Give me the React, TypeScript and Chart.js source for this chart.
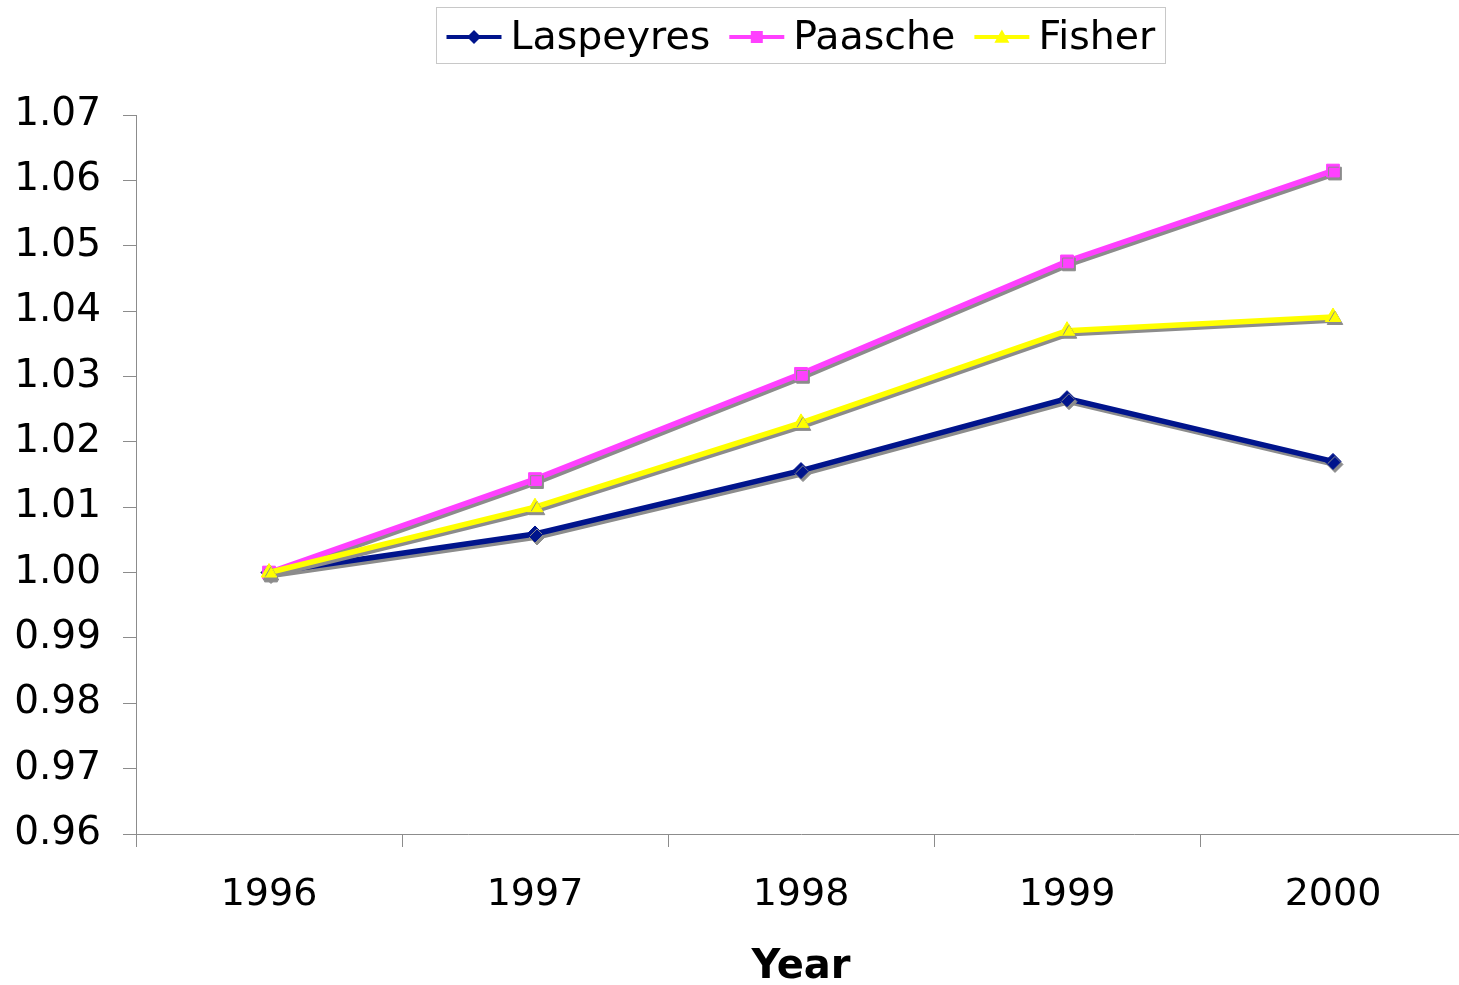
import { useEffect, useRef } from 'react';
import { Chart, registerables } from 'chart.js';

Chart.register(...registerables);

const years = ['1996', '1997', '1998', '1999', '2000'];
const laspeyres = [1.0, 1.0059, 1.0156, 1.0266, 1.017];
const paasche = [1.0, 1.0143, 1.0304, 1.0476, 1.0615];
const fisher = [1.0, 1.01, 1.0229, 1.037, 1.0391];
const seriesNames = ['Laspeyres', 'Paasche', 'Fisher'];
const seriesColors = ['#00148C', '#FF40FF', '#FFFF00'];
const seriesMarkers = ['rectRot', 'rect', 'triangle'];
const yMin = 0.96;
const yMax = 1.07;
const yStep = 0.01;
const xTitle = 'Year';

const FONT = 'DejaVu Sans';
const AXIS_GRAY = '#8c8c8c';

function drawMarker(ctx: CanvasRenderingContext2D, kind: string, x: number, y: number, color: string) {
  ctx.fillStyle = color;
  ctx.beginPath();
  if (kind === 'rectRot') {
    const r = 7;
    ctx.moveTo(x, y - r);
    ctx.lineTo(x + r, y);
    ctx.lineTo(x, y + r);
    ctx.lineTo(x - r, y);
  } else if (kind === 'rect') {
    const s = 6;
    ctx.rect(x - s, y - s, 2 * s, 2 * s);
  } else {
    const r = 7.5;
    ctx.moveTo(x, y - r);
    ctx.lineTo(x + r, y + r * 0.75);
    ctx.lineTo(x - r, y + r * 0.75);
  }
  ctx.closePath();
  ctx.fill();
}

const shadowPlugin = {
  id: 'excelShadow',
  beforeDatasetDraw(chart: any) {
    const ctx = chart.ctx;
    ctx.save();
    ctx.shadowColor = 'rgb(140,140,140)';
    ctx.shadowOffsetX = 2;
    ctx.shadowOffsetY = 3;
    ctx.shadowBlur = 0;
  },
  afterDatasetDraw(chart: any) {
    chart.ctx.restore();
  },
};

const legendPlugin = {
  id: 'excelLegend',
  afterDraw(chart: any) {
    const ctx: CanvasRenderingContext2D = chart.ctx;
    ctx.save();
    ctx.font = `39.5px "${FONT}"`;
    const sampleW = 55;
    const gapText = 9;
    const gapItem = 19;
    const padX = 10;
    const widths = seriesNames.map((n) => ctx.measureText(n).width);
    const itemsW = widths.reduce((a, w) => a + sampleW + gapText + w, 0) + gapItem * (seriesNames.length - 1);
    const boxW = itemsW + padX * 2;
    const center = 800;
    const boxX = Math.round(center - boxW / 2) + 0.5;
    const boxY = 7.5;
    const boxH = 56;
    ctx.strokeStyle = '#c8c8c8';
    ctx.lineWidth = 1;
    ctx.strokeRect(boxX, boxY, Math.round(boxW), boxH);
    const cy = 37;
    let x = boxX + padX;
    seriesNames.forEach((name, i) => {
      ctx.strokeStyle = seriesColors[i];
      ctx.lineWidth = 4;
      ctx.beginPath();
      ctx.moveTo(x, cy);
      ctx.lineTo(x + sampleW, cy);
      ctx.stroke();
      drawMarker(ctx, seriesMarkers[i], x + sampleW / 2, cy, seriesColors[i]);
      ctx.fillStyle = '#000';
      ctx.textBaseline = 'middle';
      ctx.textAlign = 'left';
      ctx.fillText(name, x + sampleW + gapText, cy + 2);
      x += sampleW + gapText + widths[i] + gapItem;
    });
    ctx.restore();
  },
};

export default function App() {
  const ref = useRef<HTMLCanvasElement>(null);

  useEffect(() => {
    if (!ref.current) return;
    Chart.defaults.font.family = FONT;
    const seriesData = [laspeyres, paasche, fisher];
    const chart = new Chart(ref.current, {
      type: 'line',
      data: {
        labels: years,
        datasets: seriesNames.map((name, i) => ({
          label: name,
          data: seriesData[i],
          borderColor: seriesColors[i],
          backgroundColor: seriesColors[i],
          pointBackgroundColor: seriesColors[i],
          pointBorderColor: seriesColors[i],
          pointBorderWidth: 1,
          pointStyle: seriesMarkers[i] as any,
          pointRadius: i === 0 ? 8 : 9,
          borderWidth: 5.5,
          tension: 0,
          fill: false,
          order: seriesNames.length - i,
          clip: false as any,
        })),
      },
      options: {
        responsive: false,
        animation: false,
        devicePixelRatio: 1,
        layout: { padding: { top: 115, left: 0, right: 0, bottom: 0 } },
        plugins: {
          legend: { display: false },
          tooltip: { enabled: false },
          title: { display: false },
        },
        scales: {
          x: {
            type: 'category',
            offset: true,
            grid: {
              offset: true,
              drawOnChartArea: false,
              drawTicks: true,
              tickLength: 13,
              tickColor: AXIS_GRAY,
              color: AXIS_GRAY,
            },
            border: { display: true, color: AXIS_GRAY, width: 1 },
            ticks: {
              color: '#000',
              font: { size: 38, family: FONT },
              padding: 25,
              maxRotation: 0,
              autoSkip: false,
            },
            title: {
              display: true,
              text: xTitle,
              color: '#000',
              font: { size: 40, weight: 'bold', family: FONT, lineHeight: 1 },
              padding: { top: 0, bottom: -3 },
            },
            afterFit(scale: any) {
              scale.height = 151;
            },
          },
          y: {
            type: 'linear',
            min: yMin,
            max: yMax,
            grid: {
              drawOnChartArea: false,
              drawTicks: true,
              tickLength: 13,
              tickColor: AXIS_GRAY,
              color: AXIS_GRAY,
            },
            border: { display: true, color: AXIS_GRAY, width: 1 },
            ticks: {
              stepSize: yStep,
              color: '#000',
              font: { size: 39, family: FONT },
              padding: 22,
              callback: (v: any) => Number(v).toFixed(2),
            },
            afterFit(scale: any) {
              scale.width = 136;
            },
          },
        },
      },
      plugins: [shadowPlugin, legendPlugin],
    });
    return () => chart.destroy();
  }, []);

  return (
    <div
      style={{
        position: 'fixed',
        left: 0,
        top: 0,
        width: 1459,
        height: 985,
        overflow: 'hidden',
        background: '#fff',
      }}
    >
      <canvas ref={ref} width={1476} height={985} style={{ display: 'block', width: 1476, height: 985 }} />
    </div>
  );
}
